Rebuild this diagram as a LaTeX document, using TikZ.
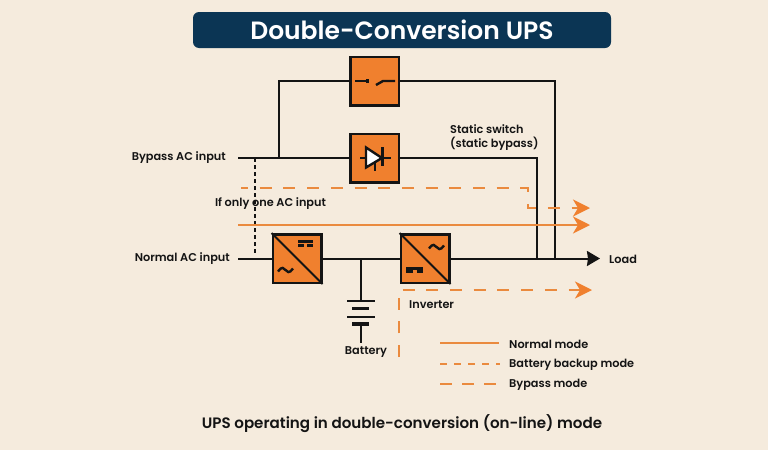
\documentclass[tikz,border=0pt]{standalone}
\usepackage{fontspec}
\setmainfont{Poppins Medium}[BoldFont={Poppins SemiBold}]
\usetikzlibrary{arrows.meta, positioning}
\definecolor{colbg}{HTML}{F5EBDD}
\definecolor{coltitle}{HTML}{0B3554}
\definecolor{colblock}{HTML}{F0802E}
\definecolor{colline}{HTML}{EA8A3E}
\definecolor{colink}{HTML}{141414}
\tikzset{
    block/.style = {draw = colink, line width = 2.5pt, fill = colblock, minimum size = 48.5pt, inner sep = 0pt},
    wire/.style = {draw = colink, line width = 2pt},
    symbol/.style = {draw = colink, line width = 2.4pt},
    label/.style = {text = colink, font = \fontsize{11.3}{14}\selectfont\bfseries, inner sep = 0pt},
    orangeline/.style = {draw = colline, line width = 2pt},
    longdash/.style = {orangeline, dash pattern = on 12pt off 11.7pt},
    shortdash/.style = {orangeline, dash pattern = on 7pt off 7pt},
    orangetip/.style = {-{Stealth[length = 17pt, width = 17pt, inset = 5pt, color = colblock, fill = colblock]}},
    acwave/.pic = {\draw [colink, line width = 2.4pt] (-7.5,1.5) .. controls (-4,-4) and (-1,-2) .. (0,0) .. controls (1,2) and (4,4) .. (7.5,-1.5);}
}
\begin{document}
\begin{tikzpicture} [x = 1pt, y = -1pt, node distance = 77pt, on grid]
\fill [colbg] (0,0) rectangle (768,450);
\useasboundingbox (0,0) rectangle (768,450);
\node (title) [fill = coltitle, rounded corners = 6pt, minimum width = 418pt, minimum height = 36pt, text = white, font = \fontsize{25}{28}\selectfont\bfseries] at (402,30) {Double-Conversion UPS};
% blocks
\node (sw) [block] at (374.5,81) {};
\node (scr) [block, below = of sw] {};
\node (rec) [block] at (297,258.5) {};
\node (inv) [block, right = 128pt of rec] {};
\draw [colink, line width = 1.8pt] (rec.north west) -- (rec.south east);
\draw [colink, line width = 1.8pt] (inv.north west) -- (inv.south east);
% labels
\node (bypass) [label, anchor = east] at (226,158) {Bypass AC input};
\node (normal) [label, anchor = east] at (230,259) {Normal AC input};
\node (oneac) [label] at (270.5,204) {If only one AC input};
\node (static) [label, anchor = north west, align = left] at (450,124.5) {Static switch\\(static bypass)};
\node (load) [label, anchor = west] at (609,259) {Load};
\node (invlabel) [label, anchor = west] at (409,305) {Inverter};
\node (batlabel) [label] at (366,352) {Battery};
\node (legn) [label, anchor = west] at (509,344) {Normal mode};
\node (legb) [label, anchor = west] at (509,364.5) {Battery backup mode};
\node (legp) [label, anchor = west] at (509,385) {Bypass mode};
\node (caption) [label, font = \fontsize{15.1}{18}\selectfont\bfseries] at (402,424) {UPS operating in double-conversion (on-line) mode};
% junctions
\coordinate (bstart) at (238,158);
\coordinate (btap) at (279,158);
\coordinate (bdot) at (255,158);
\coordinate (ntap) at (255,254);
\coordinate (nstart) at (238,258.5);
\coordinate (batj) at (361,258.5);
\coordinate (scrj) at (537,258.5);
\coordinate (swj) at (555,258.5);
\coordinate (loadtip) at (600,258.5);
\coordinate (plate1l) at (347,301);
\coordinate (plate1r) at (375,301);
\coordinate (plate2l) at (347,317);
\coordinate (plate2r) at (375,317);
\coordinate (bat1) at (361,301);
\coordinate (bat2) at (361,324);
\coordinate (bat3) at (361,343);
% black wires
\path [wire]
    (bstart) -- (scr.west)
    (btap) |- (sw.west)
    (sw.east) -| (swj)
    (scr.east) -| (scrj)
    (nstart) -- (rec.west)
    (rec.east) -- (inv.west)
    (batj) -- (bat1)
    (plate1l) -- (plate1r)
    (plate2l) -- (plate2r)
    (bat2) -- (bat3);
\draw [wire, -{Stealth[length = 13pt, width = 15pt, inset = 1pt]}] (inv.east) -- (loadtip);
\draw [colink, line width = 2.2pt, dash pattern = on 3.5pt off 3.5pt] (bdot) -- (ntap);
\draw [colink, line width = 3.5pt] (352,308.5) -- (369,308.5);
\draw [colink, line width = 3.5pt] (352,324) -- (369,324);
% switch symbol
\draw [symbol] (355,81) -- (368,81);
\draw [symbol] (367.5,79) -- (367.5,83);
\draw [symbol] (376,85) -- (383,81) -- (395,81);
% thyristor symbol
\draw [wire] (360,158) -- (391,158);
\draw [symbol, fill = white] (366,147.5) -- (382,158) -- (366,167.5) -- cycle;
\draw [symbol] (382.5,147) -- (382.5,166);
\draw [wire] (375,162) -- (375,171);
% converter symbols
\draw [colink, line width = 3pt] (298,241) -- (313,241);
\draw [colink, line width = 3pt] (298,245.5) -- (304,245.5) (307,245.5) -- (313,245.5);
\pic at (285.5,270) {acwave};
\pic at (436.5,247) {acwave};
\draw [colink, line width = 3pt] (406,268) -- (423,268);
\draw [colink, line width = 3pt] (406,271.5) -- (412.5,271.5) (416.5,271.5) -- (423,271.5);
% orange paths
\coordinate (p1) at (241,188);
\coordinate (p2) at (528,188);
\coordinate (p3) at (528,208);
\coordinate (p1tip) at (590,208);
\coordinate (n1) at (238,225);
\coordinate (n1tip) at (590,225);
\coordinate (b1) at (398.5,357);
\coordinate (b2) at (398.5,290);
\coordinate (b2tip) at (592,290);
\draw [longdash, dash phase = 5pt, orangetip] (p1) -- (p2) -- (p3) -- (p1tip);
\draw [orangeline, orangetip] (n1) -- (n1tip);
\draw [longdash, orangetip] (b1) -- (b2) -- (b2tip);
% legend
\coordinate (lna) at (440,343);
\coordinate (lnb) at (499,343);
\coordinate (lba) at (440,363.5);
\coordinate (lbb) at (500,363.5);
\coordinate (lpa) at (440,383.5);
\coordinate (lpb) at (496,383.5);
\draw [orangeline] (lna) -- (lnb);
\draw [shortdash] (lba) -- (lbb);
\draw [orangeline, dash pattern = on 12pt off 10pt] (lpa) -- (lpb);
\end{tikzpicture}
\end{document}
